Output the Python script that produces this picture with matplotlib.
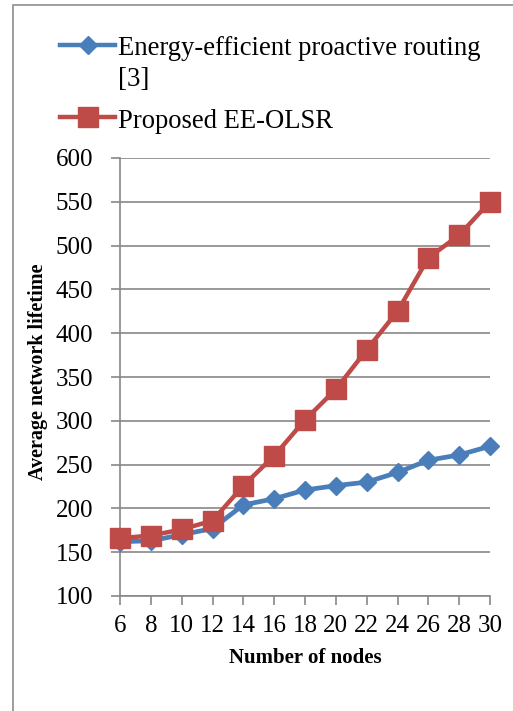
import matplotlib
matplotlib.use("Agg")
import matplotlib.pyplot as plt
from matplotlib.lines import Line2D
from matplotlib.patches import Rectangle

plt.rcParams["font.family"] = ["Liberation Serif", "DejaVu Serif"]

nodes = [6, 8, 10, 12, 14, 16, 18, 20, 22, 24, 26, 28, 30]
ee_proactive = [162, 163, 170, 177, 204, 211, 221, 226, 230, 241, 255, 261, 271]
ee_olsr = [166, 169, 176, 186, 226, 260, 301, 336, 381, 425, 486, 512, 550]
y_ticks = [100, 150, 200, 250, 300, 350, 400, 450, 500, 550, 600]

BLUE = "#4a7ebb"
RED = "#be4b48"
GRID = "#878787"

W, H = 513, 711
fig = plt.figure(figsize=(W / 100, H / 100), dpi=100)


def fx(px):
    return px / W


def fy(py):
    return 1 - py / H


# frame around the whole chart area
fig.add_artist(Rectangle((fx(13), fy(740)), fx(560), fy(5) - fy(740),
                         transform=fig.transFigure, fill=False,
                         edgecolor="#8e8e8e", linewidth=1.2))

ax = fig.add_axes([fx(120), fy(596), fx(490) - fx(120), fy(158) - fy(596)])

ax.plot(nodes, ee_proactive, color=BLUE, linewidth=3.4, marker="D",
        markersize=9.5, markerfacecolor=BLUE, markeredgecolor=BLUE,
        clip_on=False, zorder=3)
ax.plot(nodes, ee_olsr, color=RED, linewidth=3.2, marker="s",
        markersize=14, markerfacecolor=RED, markeredgecolor=RED,
        clip_on=False, zorder=4)

ax.set_xlim(6, 30)
ax.set_ylim(100, 600)
ax.set_xticks(nodes)
ax.set_yticks(y_ticks)
ax.grid(axis="y", color=GRID, linewidth=1.2)
ax.set_axisbelow(True)
for side in ("top", "right"):
    ax.spines[side].set_visible(False)
for side in ("left", "bottom"):
    ax.spines[side].set_color(GRID)
    ax.spines[side].set_linewidth(1.2)
ax.tick_params(axis="both", direction="out", color=GRID, width=1.2,
               length=6.5, labelsize=18)
ax.tick_params(axis="y", pad=13)
ax.tick_params(axis="x", pad=7)

ax.set_xlabel("Number of nodes", fontsize=15, fontweight="bold")
ax.xaxis.set_label_coords(0.5, -0.118)
fig.text(fx(38), fy(372), "Average network lifetime", rotation=90,
         ha="center", va="center", fontsize=14.5, fontweight="bold")

# legend drawn above the plot
entries = [
    (BLUE, "D", 9.5, 45, ["Energy-efficient proactive routing", "[3]"], 55),
    (RED, "s", 14, 117, ["Proposed EE-OLSR"], 128),
]
for color, mk, ms, yc, lines, base in entries:
    fig.add_artist(Line2D([fx(60), fx(115)], [fy(yc), fy(yc)],
                          transform=fig.transFigure, color=color,
                          linewidth=3.2))
    fig.add_artist(Line2D([fx(87.5)], [fy(yc)], transform=fig.transFigure,
                          marker=mk, markersize=ms, color=color,
                          linestyle="none"))
    for i, txt in enumerate(lines):
        fig.text(fx(118), fy(base + 31 * i), txt, ha="left", va="baseline",
                 fontsize=19.2)

fig.savefig("out.png", dpi=100)
plt.close(fig)
